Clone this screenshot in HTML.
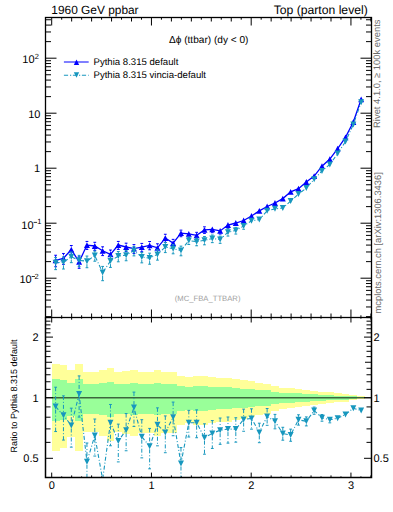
<!DOCTYPE html>
<html><head><meta charset="utf-8"><style>
html,body{text-rendering:geometricPrecision;margin:0;padding:0;background:#fff;width:393px;height:512px;overflow:hidden;position:relative}
</style></head><body>
<svg width="393" height="512" viewBox="0 0 393 512" style="position:absolute;left:0;top:0">
<defs><clipPath id="ct"><rect x="45.5" y="17.5" width="326.0" height="300.0"/></clipPath>
<clipPath id="cr"><rect x="45.5" y="317.5" width="326.0" height="160.10000000000002"/></clipPath></defs>
<g clip-path="url(#cr)" shape-rendering="crispEdges">
<g fill="#ffff99"><rect x="51.70" y="363.72" width="7.83" height="87.44"/><rect x="59.53" y="365.15" width="7.83" height="82.35"/><rect x="67.37" y="369.73" width="7.83" height="67.38"/><rect x="75.20" y="363.72" width="7.83" height="87.44"/><rect x="83.04" y="372.44" width="7.83" height="59.28"/><rect x="90.87" y="372.18" width="7.83" height="60.05"/><rect x="98.71" y="370.37" width="7.83" height="65.43"/><rect x="106.54" y="367.97" width="7.83" height="72.93"/><rect x="114.37" y="372.44" width="7.83" height="59.28"/><rect x="122.21" y="371.40" width="7.83" height="62.34"/><rect x="130.04" y="370.24" width="7.83" height="65.82"/><rect x="137.88" y="371.66" width="7.83" height="61.57"/><rect x="145.71" y="371.66" width="7.83" height="61.57"/><rect x="153.55" y="370.24" width="7.83" height="65.82"/><rect x="161.38" y="371.92" width="7.83" height="60.81"/><rect x="169.22" y="371.92" width="7.83" height="60.81"/><rect x="177.05" y="376.32" width="7.83" height="48.46"/><rect x="184.88" y="377.15" width="7.83" height="46.27"/><rect x="192.72" y="376.32" width="7.83" height="48.46"/><rect x="200.55" y="376.32" width="7.83" height="48.46"/><rect x="208.39" y="377.43" width="7.83" height="45.54"/><rect x="216.22" y="378.12" width="7.83" height="43.72"/><rect x="224.06" y="378.12" width="7.83" height="43.72"/><rect x="231.89" y="379.25" width="7.83" height="40.84"/><rect x="239.72" y="379.96" width="7.83" height="39.04"/><rect x="247.56" y="381.11" width="7.83" height="36.19"/><rect x="255.39" y="382.86" width="7.83" height="31.94"/><rect x="263.23" y="383.60" width="7.83" height="30.18"/><rect x="271.06" y="385.71" width="7.83" height="25.27"/><rect x="278.90" y="387.56" width="7.83" height="21.10"/><rect x="286.73" y="388.18" width="7.83" height="19.71"/><rect x="294.56" y="388.81" width="7.83" height="18.33"/><rect x="302.40" y="389.93" width="7.83" height="15.91"/><rect x="310.23" y="391.05" width="7.83" height="13.50"/><rect x="318.07" y="391.70" width="7.83" height="12.12"/><rect x="325.90" y="392.36" width="7.83" height="10.74"/><rect x="333.74" y="393.18" width="7.83" height="9.02"/><rect x="341.57" y="393.85" width="7.83" height="7.65"/><rect x="349.41" y="394.86" width="7.83" height="5.59"/><rect x="357.24" y="395.88" width="7.83" height="3.53"/></g>
<g fill="#99ff99"><rect x="51.70" y="379.18" width="7.83" height="42.06"/><rect x="59.53" y="380.03" width="7.83" height="39.84"/><rect x="67.37" y="382.71" width="7.83" height="33.09"/><rect x="75.20" y="379.18" width="7.83" height="42.06"/><rect x="83.04" y="384.27" width="7.83" height="29.30"/><rect x="90.87" y="384.12" width="7.83" height="29.66"/><rect x="98.71" y="383.08" width="7.83" height="32.18"/><rect x="106.54" y="381.69" width="7.83" height="35.63"/><rect x="114.37" y="384.27" width="7.83" height="29.30"/><rect x="122.21" y="383.68" width="7.83" height="30.74"/><rect x="130.04" y="383.01" width="7.83" height="32.36"/><rect x="137.88" y="383.82" width="7.83" height="30.38"/><rect x="145.71" y="383.82" width="7.83" height="30.38"/><rect x="153.55" y="383.01" width="7.83" height="32.36"/><rect x="161.38" y="383.97" width="7.83" height="30.02"/><rect x="169.22" y="383.97" width="7.83" height="30.02"/><rect x="177.05" y="386.47" width="7.83" height="24.11"/><rect x="184.88" y="386.94" width="7.83" height="23.04"/><rect x="192.72" y="386.47" width="7.83" height="24.11"/><rect x="200.55" y="386.47" width="7.83" height="24.11"/><rect x="208.39" y="387.09" width="7.83" height="22.68"/><rect x="216.22" y="387.48" width="7.83" height="21.79"/><rect x="224.06" y="387.48" width="7.83" height="21.79"/><rect x="231.89" y="388.10" width="7.83" height="20.37"/><rect x="239.72" y="388.50" width="7.83" height="19.49"/><rect x="247.56" y="389.13" width="7.83" height="18.07"/><rect x="255.39" y="390.09" width="7.83" height="15.96"/><rect x="263.23" y="390.49" width="7.83" height="15.07"/><rect x="271.06" y="391.62" width="7.83" height="12.61"/><rect x="278.90" y="392.61" width="7.83" height="10.50"/><rect x="286.73" y="392.94" width="7.83" height="9.80"/><rect x="294.56" y="393.27" width="7.83" height="9.10"/><rect x="302.40" y="393.85" width="7.83" height="7.87"/><rect x="310.23" y="394.44" width="7.83" height="6.65"/><rect x="318.07" y="394.78" width="7.83" height="5.95"/><rect x="325.90" y="395.12" width="7.83" height="5.25"/><rect x="333.74" y="395.54" width="7.83" height="4.37"/><rect x="341.57" y="395.88" width="7.83" height="3.67"/><rect x="349.41" y="396.40" width="7.83" height="2.62"/><rect x="357.24" y="396.92" width="7.83" height="1.57"/></g>
</g>
<line x1="45.5" y1="397.70" x2="371.5" y2="397.70" stroke="#000" stroke-opacity="0.6" stroke-width="1.5"/>
<g clip-path="url(#cr)">
<polyline points="55.62,406.60 63.45,415.20 71.29,425.50 79.12,394.10 86.95,461.80 94.79,435.60 102.62,479.50 110.46,422.70 118.29,441.00 126.13,430.20 133.96,407.60 141.79,436.70 149.63,446.30 157.46,424.80 165.30,432.40 173.13,417.30 180.97,463.50 188.80,422.70 196.64,422.70 204.47,437.70 212.30,433.40 220.14,430.20 227.97,429.10 235.81,429.10 243.64,419.50 251.48,418.40 259.31,432.40 267.14,416.50 274.98,421.30 282.81,433.50 290.65,435.00 298.48,419.80 306.32,421.30 314.15,410.60 321.98,417.80 329.82,419.80 337.65,418.20 345.49,414.40 353.32,408.30 361.16,410.60" fill="none" stroke="#1797be" stroke-width="1.1" stroke-dasharray="4,2,1,2"/>
<path d="M55.62,387.21V403.60M55.62,409.60V431.56M63.45,395.86V412.20M63.45,418.20V440.07M71.29,408.17V422.50M71.29,428.50V447.14M79.12,375.92V391.10M79.12,397.10V417.09M86.95,443.03V458.80M86.95,464.80V485.74M94.79,419.03V432.60M94.79,438.60V456.06M110.46,404.47V419.70M110.46,425.70V445.77M118.29,424.14V438.00M118.29,444.00V461.90M126.13,413.57V427.20M126.13,433.20V450.76M133.96,392.12V404.60M133.96,410.60V426.42M141.79,419.68V433.70M141.79,439.70V457.86M149.63,428.41V443.30M149.63,449.30V468.82M157.46,407.87V421.80M157.46,427.80V445.82M165.30,415.93V429.40M165.30,435.40V452.71M173.13,402.08V414.30M173.13,420.30V435.74M180.97,447.59V460.50M180.97,466.50V482.96M188.80,410.39V419.70M188.80,425.70V437.03M196.64,409.87V419.70M196.64,425.70V437.74M204.47,423.81V434.70M204.47,440.70V454.22M212.30,420.56V430.40M212.30,436.40V448.46M220.14,418.03V427.20M220.14,433.20V444.34M227.97,417.00V426.10M227.97,432.10V443.14M235.81,417.74V426.10M235.81,432.10V442.17M243.64,409.15V416.50M243.64,422.50V431.25M251.48,408.81V415.40M251.48,421.40V429.17M259.31,423.20V429.40M259.31,435.40V442.68M267.14,408.50V413.50M267.14,419.50V425.30M274.98,414.38V418.30M274.98,424.30V428.82M282.81,427.29V430.50M282.81,436.50V440.19M290.65,429.14V432.00M290.65,438.00V441.28M298.48,414.79V416.80M298.48,422.80V425.12M306.32,416.91V418.30M306.32,424.30V425.92M314.15,407.09V407.60M314.15,413.60V414.25M321.98,414.53V414.80M321.98,420.80V421.20M329.82,422.80V422.83" stroke="#1797be" stroke-width="1" stroke-dasharray="4,2,1,2" fill="none"/>
<path d="M54.22,387.21H57.02M54.22,431.56H57.02M62.05,395.86H64.85M62.05,440.07H64.85M69.89,408.17H72.69M69.89,447.14H72.69M77.72,375.92H80.52M77.72,417.09H80.52M85.55,443.03H88.35M85.55,485.74H88.35M93.39,419.03H96.19M93.39,456.06H96.19M109.06,404.47H111.86M109.06,445.77H111.86M116.89,424.14H119.69M116.89,461.90H119.69M124.73,413.57H127.53M124.73,450.76H127.53M132.56,392.12H135.36M132.56,426.42H135.36M140.39,419.68H143.19M140.39,457.86H143.19M148.23,428.41H151.03M148.23,468.82H151.03M156.06,407.87H158.86M156.06,445.82H158.86M163.90,415.93H166.70M163.90,452.71H166.70M171.73,402.08H174.53M171.73,435.74H174.53M179.57,447.59H182.37M179.57,482.96H182.37M187.40,410.39H190.20M187.40,437.03H190.20M195.24,409.87H198.04M195.24,437.74H198.04M203.07,423.81H205.87M203.07,454.22H205.87M210.90,420.56H213.70M210.90,448.46H213.70M218.74,418.03H221.54M218.74,444.34H221.54M226.57,417.00H229.37M226.57,443.14H229.37M234.41,417.74H237.21M234.41,442.17H237.21M242.24,409.15H245.04M242.24,431.25H245.04M250.08,408.81H252.88M250.08,429.17H252.88M257.91,423.20H260.71M257.91,442.68H260.71M265.74,408.50H268.54M265.74,425.30H268.54M273.58,414.38H276.38M273.58,428.82H276.38M281.41,427.29H284.21M281.41,440.19H284.21M289.25,429.14H292.05M289.25,441.28H292.05M297.08,414.79H299.88M297.08,425.12H299.88M304.92,416.91H307.72M304.92,425.92H307.72M312.75,407.09H315.55M312.75,414.25H315.55M320.58,414.53H323.38M320.58,421.20H323.38M328.42,422.83H331.22" stroke="#1797be" stroke-width="1" fill="none"/>
<path d="M52.62,403.60L58.62,403.60L55.62,409.60ZM60.45,412.20L66.45,412.20L63.45,418.20ZM68.29,422.50L74.29,422.50L71.29,428.50ZM76.12,391.10L82.12,391.10L79.12,397.10ZM83.95,458.80L89.95,458.80L86.95,464.80ZM91.79,432.60L97.79,432.60L94.79,438.60ZM107.46,419.70L113.46,419.70L110.46,425.70ZM115.29,438.00L121.29,438.00L118.29,444.00ZM123.13,427.20L129.13,427.20L126.13,433.20ZM130.96,404.60L136.96,404.60L133.96,410.60ZM138.79,433.70L144.79,433.70L141.79,439.70ZM146.63,443.30L152.63,443.30L149.63,449.30ZM154.46,421.80L160.46,421.80L157.46,427.80ZM162.30,429.40L168.30,429.40L165.30,435.40ZM170.13,414.30L176.13,414.30L173.13,420.30ZM177.97,460.50L183.97,460.50L180.97,466.50ZM185.80,419.70L191.80,419.70L188.80,425.70ZM193.64,419.70L199.64,419.70L196.64,425.70ZM201.47,434.70L207.47,434.70L204.47,440.70ZM209.30,430.40L215.30,430.40L212.30,436.40ZM217.14,427.20L223.14,427.20L220.14,433.20ZM224.97,426.10L230.97,426.10L227.97,432.10ZM232.81,426.10L238.81,426.10L235.81,432.10ZM240.64,416.50L246.64,416.50L243.64,422.50ZM248.48,415.40L254.48,415.40L251.48,421.40ZM256.31,429.40L262.31,429.40L259.31,435.40ZM264.14,413.50L270.14,413.50L267.14,419.50ZM271.98,418.30L277.98,418.30L274.98,424.30ZM279.81,430.50L285.81,430.50L282.81,436.50ZM287.65,432.00L293.65,432.00L290.65,438.00ZM295.48,416.80L301.48,416.80L298.48,422.80ZM303.32,418.30L309.32,418.30L306.32,424.30ZM311.15,407.60L317.15,407.60L314.15,413.60ZM318.98,414.80L324.98,414.80L321.98,420.80ZM326.82,416.80L332.82,416.80L329.82,422.80ZM334.65,415.20L340.65,415.20L337.65,421.20ZM342.49,411.40L348.49,411.40L345.49,417.40ZM350.32,405.30L356.32,405.30L353.32,411.30ZM358.16,407.60L364.16,407.60L361.16,413.60Z" fill="#1797be"/>
</g>
<g clip-path="url(#ct)">
<polyline points="55.62,260.30 63.45,258.30 71.29,249.60 79.12,261.90 86.95,245.10 94.79,246.00 102.62,250.80 110.46,254.40 118.29,245.10 126.13,247.00 133.96,248.60 141.79,247.20 149.63,245.30 157.46,247.80 165.30,238.00 173.13,243.10 180.97,233.20 188.80,233.90 196.64,235.40 204.47,229.90 212.30,229.40 220.14,230.90 227.97,225.00 235.81,223.00 243.64,220.50 251.48,216.00 259.31,210.90 267.14,206.50 274.98,203.00 282.81,198.60 290.65,191.80 298.48,188.70 306.32,182.00 314.15,176.10 321.98,166.20 329.82,159.10 337.65,148.60 345.49,137.40 353.32,122.00 361.16,99.30" fill="none" stroke="#0000ff" stroke-width="1.3"/>
<path d="M55.62,255.24V257.30M55.62,263.30V266.73M63.45,253.47V255.30M63.45,261.30V264.36M71.29,245.51V246.60M71.29,252.60V254.55M79.12,256.84V258.90M79.12,264.90V268.33M86.95,241.43V242.10M86.95,248.10V249.44M94.79,242.29V243.00M94.79,249.00V250.39M102.62,246.81V247.80M102.62,253.80V255.60M110.46,250.03V251.40M110.46,257.40V259.76M118.29,241.43V242.10M118.29,248.10V249.44M126.13,243.17V244.00M126.13,250.00V251.57M133.96,244.59V245.60M133.96,251.60V253.43M141.79,243.41V244.20M141.79,250.20V251.71M149.63,241.51V242.30M149.63,248.30V249.81M157.46,243.79V244.80M157.46,250.80V252.63M165.30,234.25V235.00M165.30,241.00V242.45M173.13,239.35V240.10M173.13,246.10V247.55M180.97,230.13V230.20M180.97,236.20V236.72M188.80,236.90V237.25M196.64,232.33V232.40M196.64,238.40V238.92M204.47,226.83V226.90M204.47,232.90V233.42M212.30,232.40V232.70M220.14,233.90V234.06M227.97,228.00V228.16M54.22,255.24H57.02M54.22,266.73H57.02M62.05,253.47H64.85M62.05,264.36H64.85M69.89,245.51H72.69M69.89,254.55H72.69M77.72,256.84H80.52M77.72,268.33H80.52M85.55,241.43H88.35M85.55,249.44H88.35M93.39,242.29H96.19M93.39,250.39H96.19M101.22,246.81H104.02M101.22,255.60H104.02M109.06,250.03H111.86M109.06,259.76H111.86M116.89,241.43H119.69M116.89,249.44H119.69M124.73,243.17H127.53M124.73,251.57H127.53M132.56,244.59H135.36M132.56,253.43H135.36M140.39,243.41H143.19M140.39,251.71H143.19M148.23,241.51H151.03M148.23,249.81H151.03M156.06,243.79H158.86M156.06,252.63H158.86M163.90,234.25H166.70M163.90,242.45H166.70M171.73,239.35H174.53M171.73,247.55H174.53M179.57,230.13H182.37M179.57,236.72H182.37M187.40,237.25H190.20M195.24,232.33H198.04M195.24,238.92H198.04M203.07,226.83H205.87M203.07,233.42H205.87M210.90,232.70H213.70M218.74,234.06H221.54M226.57,228.16H229.37" stroke="#0000ff" stroke-width="1" fill="none"/>
<path d="M52.62,263.20L58.62,263.20L55.62,257.40ZM60.45,261.20L66.45,261.20L63.45,255.40ZM68.29,252.50L74.29,252.50L71.29,246.70ZM76.12,264.80L82.12,264.80L79.12,259.00ZM83.95,248.00L89.95,248.00L86.95,242.20ZM91.79,248.90L97.79,248.90L94.79,243.10ZM99.62,253.70L105.62,253.70L102.62,247.90ZM107.46,257.30L113.46,257.30L110.46,251.50ZM115.29,248.00L121.29,248.00L118.29,242.20ZM123.13,249.90L129.13,249.90L126.13,244.10ZM130.96,251.50L136.96,251.50L133.96,245.70ZM138.79,250.10L144.79,250.10L141.79,244.30ZM146.63,248.20L152.63,248.20L149.63,242.40ZM154.46,250.70L160.46,250.70L157.46,244.90ZM162.30,240.90L168.30,240.90L165.30,235.10ZM170.13,246.00L176.13,246.00L173.13,240.20ZM177.97,236.10L183.97,236.10L180.97,230.30ZM185.80,236.80L191.80,236.80L188.80,231.00ZM193.64,238.30L199.64,238.30L196.64,232.50ZM201.47,232.80L207.47,232.80L204.47,227.00ZM209.30,232.30L215.30,232.30L212.30,226.50ZM217.14,233.80L223.14,233.80L220.14,228.00ZM224.97,227.90L230.97,227.90L227.97,222.10ZM232.81,225.90L238.81,225.90L235.81,220.10ZM240.64,223.40L246.64,223.40L243.64,217.60ZM248.48,218.90L254.48,218.90L251.48,213.10ZM256.31,213.80L262.31,213.80L259.31,208.00ZM264.14,209.40L270.14,209.40L267.14,203.60ZM271.98,205.90L277.98,205.90L274.98,200.10ZM279.81,201.50L285.81,201.50L282.81,195.70ZM287.65,194.70L293.65,194.70L290.65,188.90ZM295.48,191.60L301.48,191.60L298.48,185.80ZM303.32,184.90L309.32,184.90L306.32,179.10ZM311.15,179.00L317.15,179.00L314.15,173.20ZM318.98,169.10L324.98,169.10L321.98,163.30ZM326.82,162.00L332.82,162.00L329.82,156.20ZM334.65,151.50L340.65,151.50L337.65,145.70ZM342.49,140.30L348.49,140.30L345.49,134.50ZM350.32,124.90L356.32,124.90L353.32,119.10ZM358.16,102.20L364.16,102.20L361.16,96.40Z" fill="#0000ff"/>
<polyline points="55.62,262.81 63.45,262.24 71.29,256.74 79.12,260.36 86.95,261.19 94.79,255.62 102.62,272.50 110.46,261.11 118.29,256.10 126.13,255.13 133.96,250.75 141.79,257.07 149.63,258.08 157.46,254.40 165.30,247.03 173.13,248.77 180.97,250.47 188.80,240.56 196.64,241.66 204.47,240.30 212.30,238.52 220.14,239.48 227.97,232.23 235.81,230.48 243.64,226.02 251.48,220.87 259.31,219.48 267.14,210.76 274.98,208.87 282.81,207.93 290.65,201.09 298.48,194.11 306.32,188.02 314.15,179.36 321.98,170.99 329.82,164.46 337.65,153.60 345.49,141.53 353.32,124.55 361.16,102.16" fill="none" stroke="#1797be" stroke-width="1.1" stroke-dasharray="4,2,1,2"/>
<path d="M55.62,257.52V259.81M55.62,265.81V269.63M63.45,256.95V259.24M63.45,265.24V269.03M71.29,252.01V253.74M71.29,259.74V262.65M79.12,255.39V257.36M79.12,263.36V266.64M86.95,256.06V258.19M86.95,264.19V267.73M94.79,251.09V252.62M94.79,258.62V261.21M102.62,266.41V269.50M102.62,275.50V280.70M110.46,256.13V258.11M110.46,264.11V267.41M118.29,251.50V253.10M118.29,259.10V261.81M126.13,250.59V252.13M126.13,258.13V260.75M133.96,246.52V247.75M133.96,253.75V255.89M141.79,252.42V254.07M141.79,260.07V262.85M149.63,253.19V255.08M149.63,261.08V264.23M157.46,249.77V251.40M157.46,257.40V260.14M165.30,242.53V244.03M165.30,250.03V252.58M173.13,244.61V245.77M173.13,251.77V253.81M180.97,246.12V247.47M180.97,253.47V255.79M188.80,237.20V237.56M188.80,243.56V244.47M196.64,238.15V238.66M196.64,244.66V245.77M204.47,236.51V237.30M204.47,243.30V244.82M212.30,235.01V235.52M212.30,241.52V242.63M220.14,236.16V236.48M220.14,242.48V243.34M227.97,228.93V229.23M227.97,235.23V236.07M235.81,227.38V227.48M235.81,233.48V234.05M243.64,229.02V229.23" stroke="#1797be" stroke-width="1" fill="none"/>
<path d="M54.22,257.52H57.02M54.22,269.63H57.02M62.05,256.95H64.85M62.05,269.03H64.85M69.89,252.01H72.69M69.89,262.65H72.69M77.72,255.39H80.52M77.72,266.64H80.52M85.55,256.06H88.35M85.55,267.73H88.35M93.39,251.09H96.19M93.39,261.21H96.19M101.22,266.41H104.02M101.22,280.70H104.02M109.06,256.13H111.86M109.06,267.41H111.86M116.89,251.50H119.69M116.89,261.81H119.69M124.73,250.59H127.53M124.73,260.75H127.53M132.56,246.52H135.36M132.56,255.89H135.36M140.39,252.42H143.19M140.39,262.85H143.19M148.23,253.19H151.03M148.23,264.23H151.03M156.06,249.77H158.86M156.06,260.14H158.86M163.90,242.53H166.70M163.90,252.58H166.70M171.73,244.61H174.53M171.73,253.81H174.53M179.57,246.12H182.37M179.57,255.79H182.37M187.40,237.20H190.20M187.40,244.47H190.20M195.24,238.15H198.04M195.24,245.77H198.04M203.07,236.51H205.87M203.07,244.82H205.87M210.90,235.01H213.70M210.90,242.63H213.70M218.74,236.16H221.54M218.74,243.34H221.54M226.57,228.93H229.37M226.57,236.07H229.37M234.41,227.38H237.21M234.41,234.05H237.21M242.24,229.23H245.04" stroke="#1797be" stroke-width="1" fill="none"/>
<path d="M52.62,259.81L58.62,259.81L55.62,265.81ZM60.45,259.24L66.45,259.24L63.45,265.24ZM68.29,253.74L74.29,253.74L71.29,259.74ZM76.12,257.36L82.12,257.36L79.12,263.36ZM83.95,258.19L89.95,258.19L86.95,264.19ZM91.79,252.62L97.79,252.62L94.79,258.62ZM99.62,269.50L105.62,269.50L102.62,275.50ZM107.46,258.11L113.46,258.11L110.46,264.11ZM115.29,253.10L121.29,253.10L118.29,259.10ZM123.13,252.13L129.13,252.13L126.13,258.13ZM130.96,247.75L136.96,247.75L133.96,253.75ZM138.79,254.07L144.79,254.07L141.79,260.07ZM146.63,255.08L152.63,255.08L149.63,261.08ZM154.46,251.40L160.46,251.40L157.46,257.40ZM162.30,244.03L168.30,244.03L165.30,250.03ZM170.13,245.77L176.13,245.77L173.13,251.77ZM177.97,247.47L183.97,247.47L180.97,253.47ZM185.80,237.56L191.80,237.56L188.80,243.56ZM193.64,238.66L199.64,238.66L196.64,244.66ZM201.47,237.30L207.47,237.30L204.47,243.30ZM209.30,235.52L215.30,235.52L212.30,241.52ZM217.14,236.48L223.14,236.48L220.14,242.48ZM224.97,229.23L230.97,229.23L227.97,235.23ZM232.81,227.48L238.81,227.48L235.81,233.48ZM240.64,223.02L246.64,223.02L243.64,229.02ZM248.48,217.87L254.48,217.87L251.48,223.87ZM256.31,216.48L262.31,216.48L259.31,222.48ZM264.14,207.76L270.14,207.76L267.14,213.76ZM271.98,205.87L277.98,205.87L274.98,211.87ZM279.81,204.93L285.81,204.93L282.81,210.93ZM287.65,198.09L293.65,198.09L290.65,204.09ZM295.48,191.11L301.48,191.11L298.48,197.11ZM303.32,185.02L309.32,185.02L306.32,191.02ZM311.15,176.36L317.15,176.36L314.15,182.36ZM318.98,167.99L324.98,167.99L321.98,173.99ZM326.82,161.46L332.82,161.46L329.82,167.46ZM334.65,150.60L340.65,150.60L337.65,156.60ZM342.49,138.53L348.49,138.53L345.49,144.53ZM350.32,121.55L356.32,121.55L353.32,127.55ZM358.16,99.16L364.16,99.16L361.16,105.16Z" fill="#1797be"/>
</g>
<path d="M45.50,316.64H51.00M366.00,316.64H371.50M45.50,306.96H51.00M366.00,306.96H371.50M45.50,300.09H51.00M366.00,300.09H371.50M45.50,294.76H51.00M366.00,294.76H371.50M45.50,290.40H51.00M366.00,290.40H371.50M45.50,286.72H51.00M366.00,286.72H371.50M45.50,283.53H51.00M366.00,283.53H371.50M45.50,280.72H51.00M366.00,280.72H371.50M45.50,278.20H56.50M360.50,278.20H371.50M45.50,261.64H51.00M366.00,261.64H371.50M45.50,251.96H51.00M366.00,251.96H371.50M45.50,245.09H51.00M366.00,245.09H371.50M45.50,239.76H51.00M366.00,239.76H371.50M45.50,235.40H51.00M366.00,235.40H371.50M45.50,231.72H51.00M366.00,231.72H371.50M45.50,228.53H51.00M366.00,228.53H371.50M45.50,225.72H51.00M366.00,225.72H371.50M45.50,223.20H56.50M360.50,223.20H371.50M45.50,206.64H51.00M366.00,206.64H371.50M45.50,196.96H51.00M366.00,196.96H371.50M45.50,190.09H51.00M366.00,190.09H371.50M45.50,184.76H51.00M366.00,184.76H371.50M45.50,180.40H51.00M366.00,180.40H371.50M45.50,176.72H51.00M366.00,176.72H371.50M45.50,173.53H51.00M366.00,173.53H371.50M45.50,170.72H51.00M366.00,170.72H371.50M45.50,168.20H56.50M360.50,168.20H371.50M45.50,151.64H51.00M366.00,151.64H371.50M45.50,141.96H51.00M366.00,141.96H371.50M45.50,135.09H51.00M366.00,135.09H371.50M45.50,129.76H51.00M366.00,129.76H371.50M45.50,125.40H51.00M366.00,125.40H371.50M45.50,121.72H51.00M366.00,121.72H371.50M45.50,118.53H51.00M366.00,118.53H371.50M45.50,115.72H51.00M366.00,115.72H371.50M45.50,113.20H56.50M360.50,113.20H371.50M45.50,96.64H51.00M366.00,96.64H371.50M45.50,86.96H51.00M366.00,86.96H371.50M45.50,80.09H51.00M366.00,80.09H371.50M45.50,74.76H51.00M366.00,74.76H371.50M45.50,70.40H51.00M366.00,70.40H371.50M45.50,66.72H51.00M366.00,66.72H371.50M45.50,63.53H51.00M366.00,63.53H371.50M45.50,60.72H51.00M366.00,60.72H371.50M45.50,58.20H56.50M360.50,58.20H371.50M45.50,41.64H51.00M366.00,41.64H371.50M45.50,31.96H51.00M366.00,31.96H371.50M45.50,25.09H51.00M366.00,25.09H371.50M45.50,19.76H51.00M366.00,19.76H371.50M51.70,17.50V25.50M51.70,317.50V309.50M51.70,317.50V322.50M51.70,477.60V472.60M61.68,17.50V19.70M61.68,317.50V315.30M61.68,317.50V318.70M61.68,477.60V476.40M71.65,17.50V21.50M71.65,317.50V313.50M71.65,317.50V319.70M71.65,477.60V475.40M81.62,17.50V19.70M81.62,317.50V315.30M81.62,317.50V318.70M81.62,477.60V476.40M91.60,17.50V21.50M91.60,317.50V313.50M91.60,317.50V319.70M91.60,477.60V475.40M101.58,17.50V19.70M101.58,317.50V315.30M101.58,317.50V318.70M101.58,477.60V476.40M111.55,17.50V21.50M111.55,317.50V313.50M111.55,317.50V319.70M111.55,477.60V475.40M121.53,17.50V19.70M121.53,317.50V315.30M121.53,317.50V318.70M121.53,477.60V476.40M131.50,17.50V21.50M131.50,317.50V313.50M131.50,317.50V319.70M131.50,477.60V475.40M141.48,17.50V19.70M141.48,317.50V315.30M141.48,317.50V318.70M141.48,477.60V476.40M151.45,17.50V25.50M151.45,317.50V309.50M151.45,317.50V322.50M151.45,477.60V472.60M161.43,17.50V19.70M161.43,317.50V315.30M161.43,317.50V318.70M161.43,477.60V476.40M171.40,17.50V21.50M171.40,317.50V313.50M171.40,317.50V319.70M171.40,477.60V475.40M181.38,17.50V19.70M181.38,317.50V315.30M181.38,317.50V318.70M181.38,477.60V476.40M191.35,17.50V21.50M191.35,317.50V313.50M191.35,317.50V319.70M191.35,477.60V475.40M201.32,17.50V19.70M201.32,317.50V315.30M201.32,317.50V318.70M201.32,477.60V476.40M211.30,17.50V21.50M211.30,317.50V313.50M211.30,317.50V319.70M211.30,477.60V475.40M221.28,17.50V19.70M221.28,317.50V315.30M221.28,317.50V318.70M221.28,477.60V476.40M231.25,17.50V21.50M231.25,317.50V313.50M231.25,317.50V319.70M231.25,477.60V475.40M241.23,17.50V19.70M241.23,317.50V315.30M241.23,317.50V318.70M241.23,477.60V476.40M251.20,17.50V25.50M251.20,317.50V309.50M251.20,317.50V322.50M251.20,477.60V472.60M261.18,17.50V19.70M261.18,317.50V315.30M261.18,317.50V318.70M261.18,477.60V476.40M271.15,17.50V21.50M271.15,317.50V313.50M271.15,317.50V319.70M271.15,477.60V475.40M281.13,17.50V19.70M281.13,317.50V315.30M281.13,317.50V318.70M281.13,477.60V476.40M291.10,17.50V21.50M291.10,317.50V313.50M291.10,317.50V319.70M291.10,477.60V475.40M301.07,17.50V19.70M301.07,317.50V315.30M301.07,317.50V318.70M301.07,477.60V476.40M311.05,17.50V21.50M311.05,317.50V313.50M311.05,317.50V319.70M311.05,477.60V475.40M321.03,17.50V19.70M321.03,317.50V315.30M321.03,317.50V318.70M321.03,477.60V476.40M331.00,17.50V21.50M331.00,317.50V313.50M331.00,317.50V319.70M331.00,477.60V475.40M340.98,17.50V19.70M340.98,317.50V315.30M340.98,317.50V318.70M340.98,477.60V476.40M350.95,17.50V25.50M350.95,317.50V309.50M350.95,317.50V322.50M350.95,477.60V472.60M360.93,17.50V19.70M360.93,317.50V315.30M360.93,317.50V318.70M360.93,477.60V476.40M370.90,17.50V21.50M370.90,317.50V313.50M370.90,317.50V319.70M370.90,477.60V475.40M45.50,458.30H53.00M364.00,458.30H371.50M45.50,442.36H50.50M366.50,442.36H371.50M45.50,428.88H50.50M366.50,428.88H371.50M45.50,417.21H50.50M366.50,417.21H371.50M45.50,406.91H50.50M366.50,406.91H371.50M45.50,397.70H53.00M364.00,397.70H371.50M45.50,389.37H50.50M366.50,389.37H371.50M45.50,381.76H50.50M366.50,381.76H371.50M45.50,374.76H50.50M366.50,374.76H371.50M45.50,368.28H50.50M366.50,368.28H371.50M45.50,362.25H52.00M365.00,362.25H371.50M45.50,356.61H50.50M366.50,356.61H371.50M45.50,351.31H50.50M366.50,351.31H371.50M45.50,346.31H50.50M366.50,346.31H371.50M45.50,341.58H50.50M366.50,341.58H371.50M45.50,337.10H53.00M364.00,337.10H371.50M45.50,332.83H50.50M366.50,332.83H371.50M45.50,328.77H50.50M366.50,328.77H371.50M45.50,324.88H50.50M366.50,324.88H371.50M45.50,321.16H50.50M366.50,321.16H371.50M45.50,317.59H50.50M366.50,317.59H371.50" stroke="#000" stroke-width="1" fill="none"/>
<rect x="45.5" y="17.5" width="326.0" height="300.0" fill="none" stroke="#000" stroke-width="1.3"/>
<path d="M45.5,317.5V477.6H371.5V317.5" fill="none" stroke="#000" stroke-width="1.5"/>
<line x1="63.9" y1="62.0" x2="88.7" y2="62.0" stroke="#0000ff" stroke-width="1.0"/>
<path d="M73.80,64.90L79.20,64.90L76.50,59.60Z" fill="#0000ff"/>
<line x1="63.9" y1="75.25" x2="88.7" y2="75.25" stroke="#1797be" stroke-width="1.1" stroke-dasharray="4.2,1.9,1.2,1.7"/>
<path d="M73.80,72.20L79.20,72.20L76.50,77.80Z" fill="#1797be"/>
</svg>
<svg width="393" height="512" style="position:absolute;left:0;top:0;font-family:'Liberation Sans',sans-serif;">
<text x="51.3" y="13.7" font-size="11.9" fill="#000" text-anchor="start" >1960 GeV ppbar</text>
<text x="367.8" y="13.7" font-size="12.2" fill="#000" text-anchor="end" >Top (parton level)</text>
<text x="169" y="42.7" font-size="10.1" fill="#000" text-anchor="start" >Δϕ (ttbar) (dy &lt; 0)</text>
<text x="93.5" y="64.9" font-size="9.6" fill="#000" text-anchor="start" >Pythia 8.315 default</text>
<text x="93.5" y="77.9" font-size="9.6" fill="#000" text-anchor="start" >Pythia 8.315 vincia-default</text>
<text x="207.6" y="301.3" font-size="7.7" fill="#a0a0a0" text-anchor="middle" >(MC_FBA_TTBAR)</text>
<text x="34.6" y="63" font-size="11" fill="#000" text-anchor="end" >10</text><text x="34.8" y="58.6" font-size="7.5" fill="#000" text-anchor="start" >2</text>
<text x="40.5" y="117.7" font-size="11" fill="#000" text-anchor="end" >10</text>
<text x="40.0" y="172.0" font-size="11" fill="#000" text-anchor="end" >1</text>
<text x="33.6" y="228.7" font-size="11" fill="#000" text-anchor="end" >10</text><path d="M33.6,222.4H37.1M31.7,276.5H35.0" stroke="#000" stroke-width="0.8"/><text x="37.3" y="223.8" font-size="7.5" fill="#000" text-anchor="start" >1</text>
<text x="31.7" y="282.7" font-size="11" fill="#000" text-anchor="end" >10</text><text x="34.6" y="278.7" font-size="7.5" fill="#000" text-anchor="start" >2</text>
<text x="38.6" y="340.8" font-size="11" fill="#000" text-anchor="end" >2</text>
<text x="38.6" y="401.8" font-size="11" fill="#000" text-anchor="end" >1</text>
<text x="38.6" y="462.2" font-size="11" fill="#000" text-anchor="end" >0.5</text>
<text x="373.5" y="340.8" font-size="11" fill="#000" text-anchor="start" >2</text>
<text x="373.5" y="402.4" font-size="11" fill="#000" text-anchor="start" >1</text>
<text x="373.5" y="462.2" font-size="11" fill="#000" text-anchor="start" >0.5</text>
<text x="51.7" y="488.8" font-size="11" fill="#000" text-anchor="middle" >0</text>
<text x="151.45" y="488.8" font-size="11" fill="#000" text-anchor="middle" >1</text>
<text x="251.2" y="488.8" font-size="11" fill="#000" text-anchor="middle" >2</text>
<text x="350.95" y="488.8" font-size="11" fill="#000" text-anchor="middle" >3</text>
<text transform="translate(379.7,127.9) rotate(-90)" font-size="9.4" fill="#6a6a6a">Rivet 4.1.0, ≥ 100k events</text>
<text transform="translate(381.2,313.5) rotate(-90)" font-size="9.35" fill="#6a6a6a">mcplots.cern.ch [arXiv:1306.3436]</text>
<text transform="translate(17.2,452.5) rotate(-90)" font-size="9" fill="#000">Ratio to Pythia 8.315 default</text>
</svg>
</body></html>
